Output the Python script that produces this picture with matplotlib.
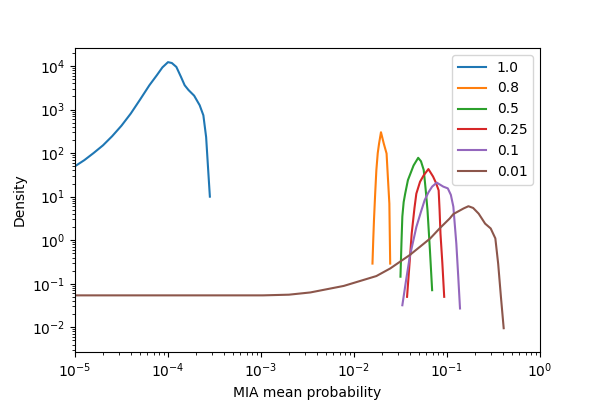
import numpy as np
import matplotlib
matplotlib.use('Agg')
import matplotlib.pyplot as plt

labels = ['1.0', '0.8', '0.5', '0.25', '0.1', '0.01']

# density curves (x = MIA mean probability)
x_10 = [1e-5, 1.26e-5, 1.58e-5, 2.0e-5, 2.51e-5, 3.16e-5, 3.98e-5, 5.01e-5, 6.31e-5, 7.59e-5,
        8.71e-5, 1.0e-4, 1.10e-4, 1.23e-4, 1.38e-4, 1.51e-4, 1.66e-4, 1.91e-4, 2.19e-4,
        2.40e-4, 2.57e-4, 2.69e-4, 2.82e-4]
y_10 = [50, 69, 100, 151, 245, 427, 813, 1700, 3630, 6170,
        9330, 12300, 11750, 9550, 5620, 3630, 2820, 2090, 1260,
        740, 234, 49, 10]

x_08 = [0.0158, 0.0161, 0.0164, 0.0169, 0.0174, 0.0180, 0.0186, 0.0195, 0.0209, 0.0224,
        0.0232, 0.0240, 0.0245]
y_08 = [0.29, 1.0, 2.9, 12, 41, 100, 166, 302, 166, 98, 25, 6.9, 0.29]

x_05 = [0.0316, 0.0324, 0.0331, 0.0342, 0.0355, 0.038, 0.0437, 0.049, 0.0525, 0.0562,
        0.0589, 0.0617, 0.0655, 0.0692]
y_05 = [0.145, 0.9, 3.5, 7.5, 11.7, 24, 52, 78, 65, 41, 15, 4.9, 0.6, 0.071]

x_025 = [0.0372, 0.0398, 0.0417, 0.0447, 0.0468, 0.0513, 0.0562, 0.0631, 0.0708, 0.0759,
         0.0813, 0.0832, 0.0851, 0.0891, 0.0933]
y_025 = [0.05, 0.35, 1.41, 5.5, 11.7, 22, 31, 43, 29, 21, 14, 5, 1.41, 0.3, 0.05]

x_01 = [0.0331, 0.0363, 0.0398, 0.0468, 0.0525, 0.0575, 0.0631, 0.0692, 0.0776, 0.0912,
        0.102, 0.110, 0.117, 0.126, 0.132, 0.138]
y_01 = [0.032, 0.12, 0.42, 2.0, 4.5, 8.3, 12.5, 17, 21, 17, 15.5, 11, 5.9, 0.83, 0.15, 0.027]

x_001 = [1e-5, 1.05e-3, 2.0e-3, 3.39e-3, 7.76e-3, 0.0174, 0.0245, 0.0398, 0.0513, 0.0661, 0.0832,
         0.107, 0.117, 0.151, 0.170, 0.191, 0.219, 0.257, 0.295, 0.331, 0.355, 0.380, 0.407]
y_001 = [0.054, 0.054, 0.056, 0.063, 0.089, 0.15, 0.224, 0.457, 0.708, 1.10, 1.86,
         3.16, 3.98, 5.37, 6.03, 5.5, 4.07, 2.40, 1.86, 1.10, 0.288, 0.050, 0.0095]

xs = [x_10, x_08, x_05, x_025, x_01, x_001]
ys = [y_10, y_08, y_05, y_025, y_01, y_001]

plt.figure(figsize=(6, 4), dpi=100)
plt.subplots_adjust(bottom=0.12)

for x, y, lab in zip(xs, ys, labels):
    plt.plot(x, y, label=lab)

plt.xscale('log')
plt.yscale('log')
plt.xlim(1e-5, 1)
plt.ylim(2.7e-3, 2.6e4)
plt.legend()
plt.xlabel('MIA mean probability')
plt.ylabel('Density')
plt.savefig('out.png', dpi=100)
